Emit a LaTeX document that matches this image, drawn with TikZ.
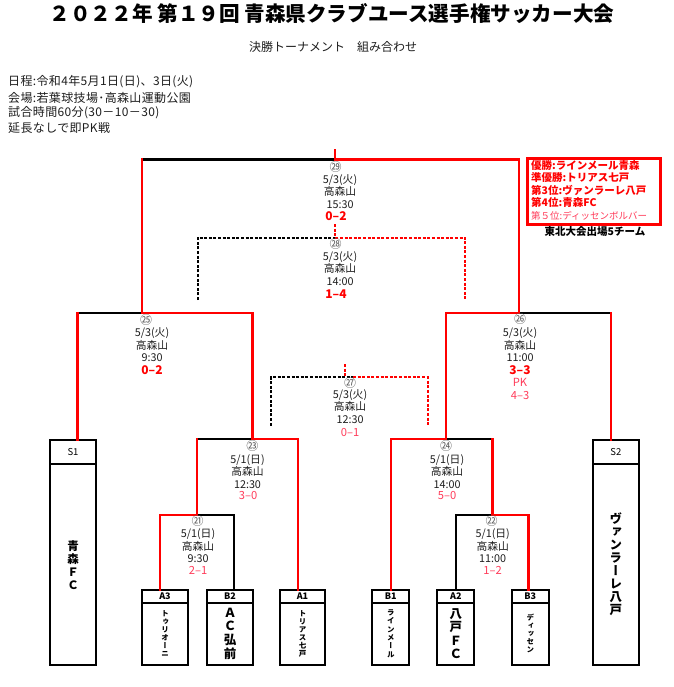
\documentclass[tikz,border=0pt]{standalone}
\usepackage{fontspec}
\usepackage{graphicx}
\setmainfont{Noto Sans CJK JP}
\newfontfamily\vjp{Noto Sans CJK JP}[RawFeature=+vert]
\newfontfamily\infofont{Noto Sans CJK JP}[LetterSpace=3]
\definecolor{pinkred}{RGB}{255,60,90}
\definecolor{circgray}{RGB}{90,90,90}
\definecolor{txt}{RGB}{30,30,30}
\tikzset{
  lbl/.style={font=\fontsize{10.8}{12.4}\selectfont, text=txt, align=center, inner sep=0pt},
  circ/.style={font=\fontsize{12}{12}\selectfont, text=circgray, inner sep=0pt},
  scb/.style={font=\bfseries\fontsize{12}{12}\selectfont, text=red, inner sep=0pt},
  scp/.style={font=\fontsize{11.2}{12}\selectfont, text=pinkred, inner sep=0pt},
  rl/.style={draw=red, line width=2.8pt, line cap=rect},
  bl/.style={draw=black, line width=2.4pt, line cap=rect},
  rd/.style={draw=red, line width=2pt, dash pattern=on 3pt off 1.6pt},
  bd/.style={draw=black, line width=2pt, dash pattern=on 3pt off 1.6pt},
  thead/.style={draw=black, line width=2.2pt, inner sep=0pt, outer sep=0pt, minimum height=12.7pt, anchor=north, font=\bfseries\fontsize{9}{9}\selectfont},
  tbody/.style={draw=black, line width=2.2pt, inner sep=0pt, outer sep=0pt, anchor=north, minimum height=62pt, align=center},
  vt/.style 2 args={font={\vjp\bfseries\fontsize{#1}{#2}\selectfont}},
  info/.style={font=\infofont\fontsize{12}{12}\selectfont, text=txt, anchor=west, inner sep=0pt},
  resb/.style={font=\bfseries\fontsize{10.5}{11}\selectfont, text=red, anchor=west, inner sep=0pt},
}
\begin{document}
\begin{tikzpicture}[x=1pt,y=-1pt]
\useasboundingbox (0,0) rectangle (673,687);
\fill[white] (0,0) rectangle (673,687);

% titles
\node[font=\bfseries\fontsize{20.6}{21}\selectfont, inner sep=0pt] (title) at (332,14) {２０２２年 第１９回 青森県クラブユース選手権サッカー大会};
\node[font=\fontsize{12}{12}\selectfont, text=txt, inner sep=0pt] (sub) at (333,47) {決勝トーナメント　組み合わせ};
\node[info] (i1) at (8,82) {日程:令和4年5月1日(日)、3日(火)};
\node[info] (i2) at (8,98) {会場:若葉球技場･高森山運動公園};
\node[info] (i3) at (8,113) {試合時間60分(30－10－30)};
\node[info] (i4) at (8,128) {延長なしで即PK戦};

% result box
\node[draw=red, line width=3pt, minimum width=132.7pt, minimum height=65.7pt, inner sep=0pt] (res) at (593.65,191.15) {};
\node[resb] (r1) at (531,165.5) {優勝:ラインメール青森};
\node[resb] (r2) at (531,177.5) {準優勝:トリアス七戸};
\node[resb] (r3) at (531,190) {第3位:ヴァンラーレ八戸};
\node[resb] (r4) at (531,202.5) {第4位:青森FC};
\node[font=\fontsize{9.5}{10}\selectfont, text=pinkred, anchor=west, inner sep=0pt] (r5) at (531,215.5) {第５位:ディッセンボルバー};
\node[font=\bfseries\fontsize{10.5}{11}\selectfont, inner sep=0pt] (tohoku) at (595,231.5) {東北大会出場5チーム};

% team boxes
\node[thead, minimum width=46pt, minimum height=24.3pt, font=\fontsize{9.5}{9.5}\selectfont] (S1h) at (73,440) {S1};
\node[tbody, minimum width=46pt, minimum height=200.7pt, vt={11.5}{13}] (S1b) at (S1h.south) {青\\森\\Ｆ\\Ｃ};
\node[thead, minimum width=46.3pt, minimum height=24.3pt, font=\fontsize{9.5}{9.5}\selectfont] (S2h) at (615.85,440) {S2};
\node[tbody, minimum width=46.3pt, minimum height=200.7pt, vt={12.5}{13}] (S2b) at (S2h.south) {ヴ\\ァ\\ン\\ラ\\ー\\レ\\八\\戸};

\node[thead, minimum width=45.4pt] (A3h) at (165,590) {A3};
\node[tbody, minimum width=45.4pt, vt={7.5}{8}] (A3b) at (A3h.south) {ト\\ゥ\\リ\\オ\\ー\\ニ};
\node[thead, minimum width=45.4pt] (B2h) at (230,590) {B2};
\node[tbody, minimum width=45.4pt, vt={12.5}{13.7}] (B2b) at (B2h.south) {Ａ\\Ｃ\\弘\\前};
\node[thead, minimum width=45pt] (A1h) at (302.5,590) {A1};
\node[tbody, minimum width=45pt, vt={7.5}{8}] (A1b) at (A1h.south) {ト\\リ\\ア\\ス\\七\\戸};
\node[thead, minimum width=37pt] (B1h) at (390.8,590) {B1};
\node[tbody, minimum width=37pt, vt={7.5}{8.3}] (B1b) at (B1h.south) {ラ\\イ\\ン\\メ\\ー\\ル};
\node[thead, minimum width=37pt] (A2h) at (455.8,590) {A2};
\node[tbody, minimum width=37pt, vt={12.5}{13.3}] (A2b) at (A2h.south) {八\\戸\\Ｆ\\Ｃ};
\node[thead, minimum width=37.3pt] (B3h) at (530.3,590) {B3};
\node[tbody, minimum width=37.3pt, vt={7.5}{8}] (B3b) at (B3h.south) {デ\\ィ\\ッ\\セ\\ン};

% bracket coordinates
\coordinate (Ftop) at (335,150.5);
\coordinate (F) at (335,159.5);
\coordinate (FL) at (142,159.5);
\coordinate (FR) at (519,159.5);
\coordinate (S25) at (142,313);
\coordinate (S25L) at (77.5,313);
\coordinate (S25R) at (252.5,313);
\coordinate (S26) at (519,313);
\coordinate (S26L) at (446,313);
\coordinate (S26R) at (611,313);
\coordinate (M23) at (252.5,439);
\coordinate (M23L) at (197,439);
\coordinate (M23R) at (298,439);
\coordinate (M24) at (446,439);
\coordinate (M24L) at (391,439);
\coordinate (M24R) at (492.7,439);
\coordinate (M21) at (197,515);
\coordinate (M21L) at (160,515);
\coordinate (M21R) at (234,515);
\coordinate (M22) at (492.7,515);
\coordinate (M22L) at (455.7,515);
\coordinate (M22R) at (528.3,515);
\coordinate (T28s) at (335,224);
\coordinate (T28) at (335,237.5);
\coordinate (T28L) at (197.7,237.5);
\coordinate (T28R) at (465,237.5);
\coordinate (T28Lb) at (197.7,300);
\coordinate (T28Rb) at (465,300);
\coordinate (T27s) at (345,364);
\coordinate (T27) at (345,377);
\coordinate (T27m) at (353,377);
\coordinate (T27L) at (271,377);
\coordinate (T27R) at (427.5,377);
\coordinate (T27Lb) at (271,425.5);
\coordinate (T27Rb) at (427.5,425.5);

% black solid
\draw[bl] (FL) -- (F);
\draw[bl] (S25L) -- (S25);
\draw[bl] (S26) -- (S26R);
\draw[bl] (M23L) -- (M23);
\draw[bl] (M21) -- (M21R) -- (M21R |- B2h.north);
\draw[bl] (M24) -- (M24R);
\draw[bl] (M22L |- A2h.north) -- (M22L) -- (M22);

% red solid
\draw[rl] (Ftop) -- (F) -- (FR) -- (S26);
\draw[rl] (FL) -- (S25) -- (S25R) -- (M23) -- (M23R) -- (M23R |- A1h.north);
\draw[rl] (S25L |- S1h.north) -- (S25L);
\draw[rl] (M24L |- B1h.north) -- (M24L) -- (M24) -- (S26L) -- (S26);
\draw[rl] (S26R) -- (S26R |- S2h.north);
\draw[rl] (M21L |- A3h.north) -- (M21L) -- (M21) -- (M23L);
\draw[rl] (M24R) -- (M22) -- (M22R) -- (M22R |- B3h.north);

% dashed
\draw[bd] (T28Lb) -- (T28L) -- (T28);
\draw[rd] (T28s) -- (T28) -- (T28R) -- (T28Rb);
\draw[bd] (T27Lb) -- (T27L) -- (T27m);
\draw[rd] (T27s) -- (T27);
\draw[rd] (T27m) -- (T27R) -- (T27Rb);

% labels 29
\node[circ] (c29) at (335.7,166.5) {㉙};
\node[lbl] (l29) at (340,191.5) {5/3(火)\\高森山\\15:30};
\node[scb] (s29) at (336,216.5) {0–2};
% 28
\node[circ] (c28) at (335.7,243.5) {㉘};
\node[lbl] (l28) at (340,268.5) {5/3(火)\\高森山\\14:00};
\node[scb] (s28) at (336,294) {1–4};
% 25
\node[circ] (c25) at (146,319.8) {㉕};
\node[lbl] (l25) at (152,345) {5/3(火)\\高森山\\9:30};
\node[scb] (s25) at (152,370) {0–2};
% 26
\node[circ] (c26) at (520,319) {㉖};
\node[lbl] (l26) at (520,345) {5/3(火)\\高森山\\11:00};
\node[scb] (s26) at (520,370) {3–3};
\node[scp] (pk26) at (520,382.7) {PK};
\node[scp] (p26) at (520,395.3) {4–3};
% 27
\node[circ] (c27) at (350,382.5) {㉗};
\node[lbl] (l27) at (350,406.5) {5/3(火)\\高森山\\12:30};
\node[scp] (s27) at (350,432.3) {0–1};
% 23
\node[circ] (c23) at (252.3,445.5) {㉓};
\node[lbl] (l23) at (247.5,471.3) {5/1(日)\\高森山\\12:30};
\node[scp] (s23) at (248,496) {3–0};
% 24
\node[circ] (c24) at (446,445.5) {㉔};
\node[lbl] (l24) at (447,471.3) {5/1(日)\\高森山\\14:00};
\node[scp] (s24) at (447,496) {5–0};
% 21
\node[circ] (c21) at (197.7,521.3) {㉑};
\node[lbl] (l21) at (198,546) {5/1(日)\\高森山\\9:30};
\node[scp] (s21) at (198,570) {2–1};
% 22
\node[circ] (c22) at (491.7,521.3) {㉒};
\node[lbl] (l22) at (492.7,546) {5/1(日)\\高森山\\11:00};
\node[scp] (s22) at (492.7,570) {1–2};
\end{tikzpicture}
\end{document}
